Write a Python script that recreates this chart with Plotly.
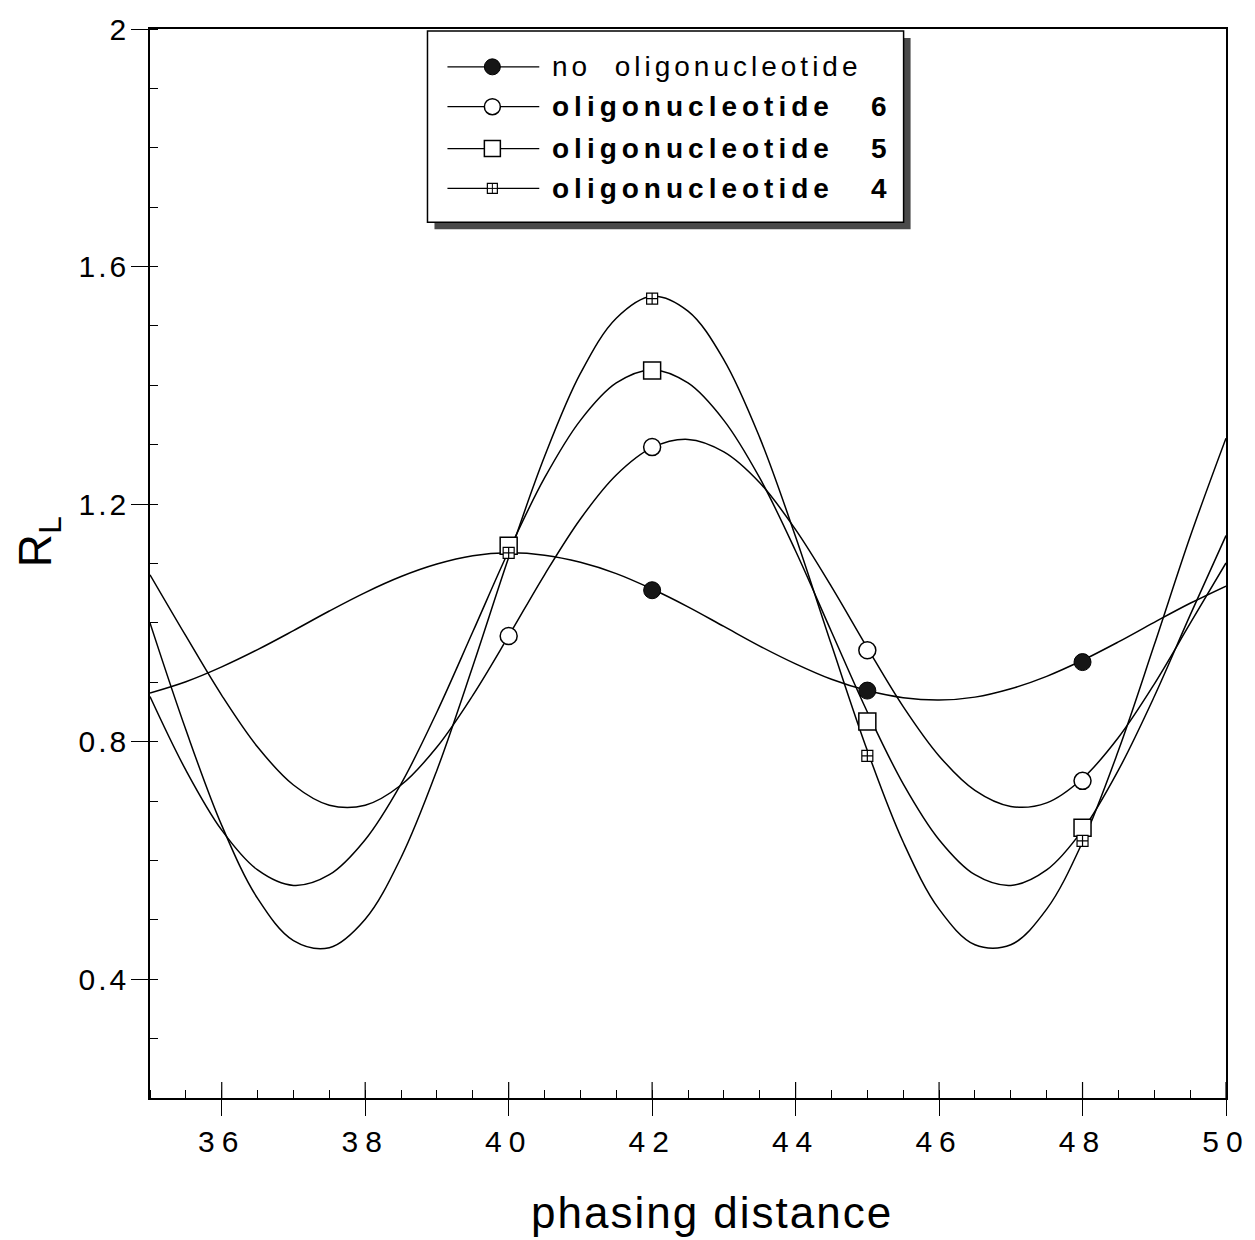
import plotly.graph_objects as go

# ---------------------------------------------------------------------------
# Measured ratios R_L at each phasing distance
# ---------------------------------------------------------------------------
POINT_X = [40, 42, 45, 48]
NO_OLIGO_X = [42, 45, 48]
NO_OLIGO_R = [1.055, 0.886, 0.934]
OLIGO6_R = [0.978, 1.296, 0.954, 0.734]
OLIGO5_R = [1.130, 1.425, 0.834, 0.655]
OLIGO4_R = [1.118, 1.546, 0.776, 0.633]

# Fitted (smooth) curves, sampled every half base pair
CURVE_X = [35.0, 35.5, 36.0, 36.5, 37.0, 37.5, 38.0, 38.5, 39.0, 39.5,
           40.0, 40.5, 41.0, 41.5, 42.0, 42.5, 43.0, 43.5, 44.0, 44.5,
           45.0, 45.5, 46.0, 46.5, 47.0, 47.5, 48.0, 48.5, 49.0, 49.5, 50.0]
NO_OLIGO_FIT = [0.882, 0.901, 0.926, 0.955, 0.987, 1.020, 1.051, 1.078, 1.099, 1.113,
                1.118, 1.114, 1.102, 1.083, 1.057, 1.027, 0.994, 0.961, 0.931, 0.905,
                0.886, 0.874, 0.870, 0.875, 0.889, 0.910, 0.937, 0.968, 1.001, 1.033, 1.062]
OLIGO6_FIT = [1.081, 0.978, 0.878, 0.791, 0.727, 0.693, 0.693, 0.727, 0.791, 0.878,
              0.978, 1.081, 1.175, 1.249, 1.295, 1.309, 1.288, 1.236, 1.157, 1.061,
              0.958, 0.859, 0.776, 0.718, 0.691, 0.697, 0.738, 0.807, 0.897, 0.999, 1.101]
OLIGO5_FIT = [0.876, 0.752, 0.651, 0.584, 0.558, 0.576, 0.635, 0.729, 0.850, 0.985,
              1.121, 1.244, 1.341, 1.404, 1.426, 1.404, 1.341, 1.244, 1.121, 0.985,
              0.850, 0.729, 0.635, 0.576, 0.558, 0.584, 0.651, 0.752, 0.876, 1.013, 1.147]
OLIGO4_FIT = [1.000, 0.820, 0.659, 0.536, 0.465, 0.453, 0.501, 0.605, 0.752, 0.927,
              1.110, 1.280, 1.420, 1.513, 1.550, 1.525, 1.443, 1.312, 1.145, 0.963,
              0.785, 0.631, 0.518, 0.458, 0.458, 0.518, 0.631, 0.785, 0.963, 1.145, 1.311]

X_TICKS = [36, 38, 40, 42, 44, 46, 48, 50]
X_TICK_TEXT = ["36", "38", "40", "42", "44", "46", "48", "50"]
Y_TICKS = [0.4, 0.8, 1.2, 1.6, 2.0]
Y_TICK_TEXT = ["0.4", "0.8", "1.2", "1.6", "2"]

LEGEND_NAMES = ["no\u00a0\u00a0oligonucleotide", "oligonucleotide",
                "oligonucleotide", "oligonucleotide"]
LEGEND_NUMBERS = ["", "6", "5", "4"]

FONT = "Liberation Sans, Arial, Helvetica, sans-serif"
INK = "#000000"

# plot-area geometry (pixels) used for the hand-built legend box
W, H = 1255, 1240
L, R, T, B = 150, 27, 25, 142
PW, PH = W - L - R, H - T - B


def px_x(px):
    return (px - L) / PW


def px_y(py):
    return (T + PH - py) / PH


fig = go.Figure()

# smooth fitted curves
for ys in (NO_OLIGO_FIT, OLIGO6_FIT, OLIGO5_FIT, OLIGO4_FIT):
    fig.add_trace(go.Scatter(
        x=CURVE_X, y=ys, mode="lines",
        line=dict(color=INK, width=1.5, shape="spline", smoothing=1.0),
        hoverinfo="skip", showlegend=False,
    ))

# measured points
fig.add_trace(go.Scatter(
    x=NO_OLIGO_X, y=NO_OLIGO_R, mode="markers", showlegend=False,
    marker=dict(symbol="circle", size=17, color="#161616",
                line=dict(color=INK, width=1)),
))
fig.add_trace(go.Scatter(
    x=POINT_X, y=OLIGO6_R, mode="markers", showlegend=False,
    marker=dict(symbol="circle", size=17, color="white",
                line=dict(color=INK, width=1.5)),
))
fig.add_trace(go.Scatter(
    x=POINT_X, y=OLIGO5_R, mode="markers", showlegend=False,
    marker=dict(symbol="square", size=17, color="white",
                line=dict(color=INK, width=1.5)),
))
fig.add_trace(go.Scatter(
    x=POINT_X, y=OLIGO4_R, mode="markers", showlegend=False,
    marker=dict(symbol="square-cross", size=11, color="white",
                line=dict(color=INK, width=1.2)),
))

shapes = []

# major x ticks also reach inside the frame
for xv in X_TICKS:
    shapes.append(dict(type="line", xref="x", yref="paper", ysizemode="pixel",
                       yanchor=0, x0=xv, x1=xv, y0=0, y1=16,
                       line=dict(color=INK, width=1.2), layer="above"))

# legend box with drop shadow
box_x0, box_x1, box_y0, box_y1 = 428, 905, 27, 219
shapes.append(dict(type="rect", xref="paper", yref="paper",
                   x0=px_x(box_x0 + 7), x1=px_x(box_x1 + 7),
                   y0=px_y(box_y0 + 7), y1=px_y(box_y1 + 7),
                   fillcolor="#4a4a4a", line=dict(width=0), layer="below"))
shapes.append(dict(type="rect", xref="paper", yref="paper",
                   x0=px_x(box_x0), x1=px_x(box_x1),
                   y0=px_y(box_y0), y1=px_y(box_y1),
                   fillcolor="white", line=dict(color=INK, width=1.5), layer="below"))

row_y = [63, 103, 145, 185]
line_x0, line_x1, mark_x = 448, 540, 493
for i, ry in enumerate(row_y):
    yp = px_y(ry)
    shapes.append(dict(type="line", xref="paper", yref="paper",
                       x0=px_x(line_x0), x1=px_x(line_x1), y0=yp, y1=yp,
                       line=dict(color=INK, width=1.2), layer="below"))
    common = dict(xref="paper", yref="paper", xsizemode="pixel", ysizemode="pixel",
                  xanchor=px_x(mark_x), yanchor=yp, layer="below")
    if i == 0:
        shapes.append(dict(type="circle", x0=-8, x1=8, y0=-8, y1=8,
                           fillcolor="#161616", line=dict(color=INK, width=1), **common))
    elif i == 1:
        shapes.append(dict(type="circle", x0=-8, x1=8, y0=-8, y1=8,
                           fillcolor="white", line=dict(color=INK, width=1.5), **common))
    elif i == 2:
        shapes.append(dict(type="rect", x0=-8, x1=8, y0=-8, y1=8,
                           fillcolor="white", line=dict(color=INK, width=1.5), **common))
    else:
        shapes.append(dict(type="rect", x0=-5, x1=5, y0=-5, y1=5,
                           fillcolor="white", line=dict(color=INK, width=1.2), **common))
        shapes.append(dict(type="line", x0=0, x1=0, y0=-5, y1=5,
                           line=dict(color=INK, width=1), **common))
        shapes.append(dict(type="line", x0=-5, x1=5, y0=0, y1=0,
                           line=dict(color=INK, width=1), **common))

annotations = []
for i, ry in enumerate(row_y):
    annotations.append(dict(
        xref="paper", yref="paper", x=px_x(551), y=px_y(ry),
        xanchor="left", yanchor="middle", align="left", showarrow=False,
        text=LEGEND_NAMES[i],
        font=dict(family=FONT, size=28, color=INK, weight="normal" if i == 0 else "bold"),
    ))
    if LEGEND_NUMBERS[i]:
        annotations.append(dict(
            xref="paper", yref="paper", x=px_x(870), y=px_y(ry),
            xanchor="left", yanchor="middle", align="left", showarrow=False,
            text=LEGEND_NUMBERS[i],
            font=dict(family=FONT, size=28, color=INK, weight="bold"),
        ))

# axis titles
annotations.append(dict(
    xref="paper", yref="paper", x=px_x(713), y=px_y(1213),
    xanchor="center", yanchor="middle", showarrow=False,
    text="phasing distance", font=dict(family=FONT, size=44, color=INK),
))
annotations.append(dict(
    xref="paper", yref="paper", x=px_x(38), y=px_y(540),
    xanchor="center", yanchor="middle", showarrow=False, textangle=-90,
    text="R<sub>L</sub>", font=dict(family=FONT, size=46, color=INK),
))

fig.update_layout(
    width=W, height=H,
    margin=dict(l=L, r=R, t=T, b=B),
    paper_bgcolor="white", plot_bgcolor="white",
    showlegend=False,
    font=dict(family=FONT, color=INK),
    shapes=shapes,
    annotations=annotations,
    xaxis=dict(
        range=[35, 50], tickmode="array", tickvals=X_TICKS, ticktext=X_TICK_TEXT,
        ticks="outside", ticklen=16, tickwidth=1.2, tickcolor=INK,
        tickfont=dict(family=FONT, size=30, color=INK),
        minor=dict(dtick=0.5, tick0=35, ticks="inside", ticklen=8,
                   tickwidth=1, tickcolor=INK, showgrid=False),
        showline=True, linecolor=INK, linewidth=1.5, mirror=True,
        showgrid=False, zeroline=False,
    ),
    yaxis=dict(
        range=[0.2, 2.0], tickmode="array", tickvals=Y_TICKS, ticktext=Y_TICK_TEXT,
        ticks="outside", ticklen=17, tickwidth=1.2, tickcolor=INK,
        ticklabelstandoff=-4,
        tickfont=dict(family=FONT, size=30, color=INK),
        minor=dict(dtick=0.1, tick0=0.2, ticks="inside", ticklen=8,
                   tickwidth=1, tickcolor=INK, showgrid=False),
        showline=True, linecolor=INK, linewidth=1.5, mirror=True,
        showgrid=False, zeroline=False,
    ),
)

# Old-style plotting fonts: widen letter spacing on labels after each render
POST_SCRIPT = """
var gd = document.getElementById('{plot_id}');
function spaceLetters() {
  gd.querySelectorAll('g.xtick text').forEach(function (t) {
    t.style.letterSpacing = '7px';
  });
  gd.querySelectorAll('g.ytick text').forEach(function (t) {
    t.style.letterSpacing = '3px';
  });
  gd.querySelectorAll('text.annotation-text').forEach(function (t) {
    var fs = parseFloat(t.style.fontSize);
    var bold = String(t.style.fontWeight) === 'bold' || parseInt(t.style.fontWeight, 10) >= 600;
    if (fs < 30) { t.style.letterSpacing = bold ? '5px' : '4px'; }
    else if (fs >= 40 && fs < 45) { t.style.letterSpacing = '2px'; }
  });
}
spaceLetters();
gd.on('plotly_afterplot', spaceLetters);
"""

fig.write_html("out.html", post_script=POST_SCRIPT)
